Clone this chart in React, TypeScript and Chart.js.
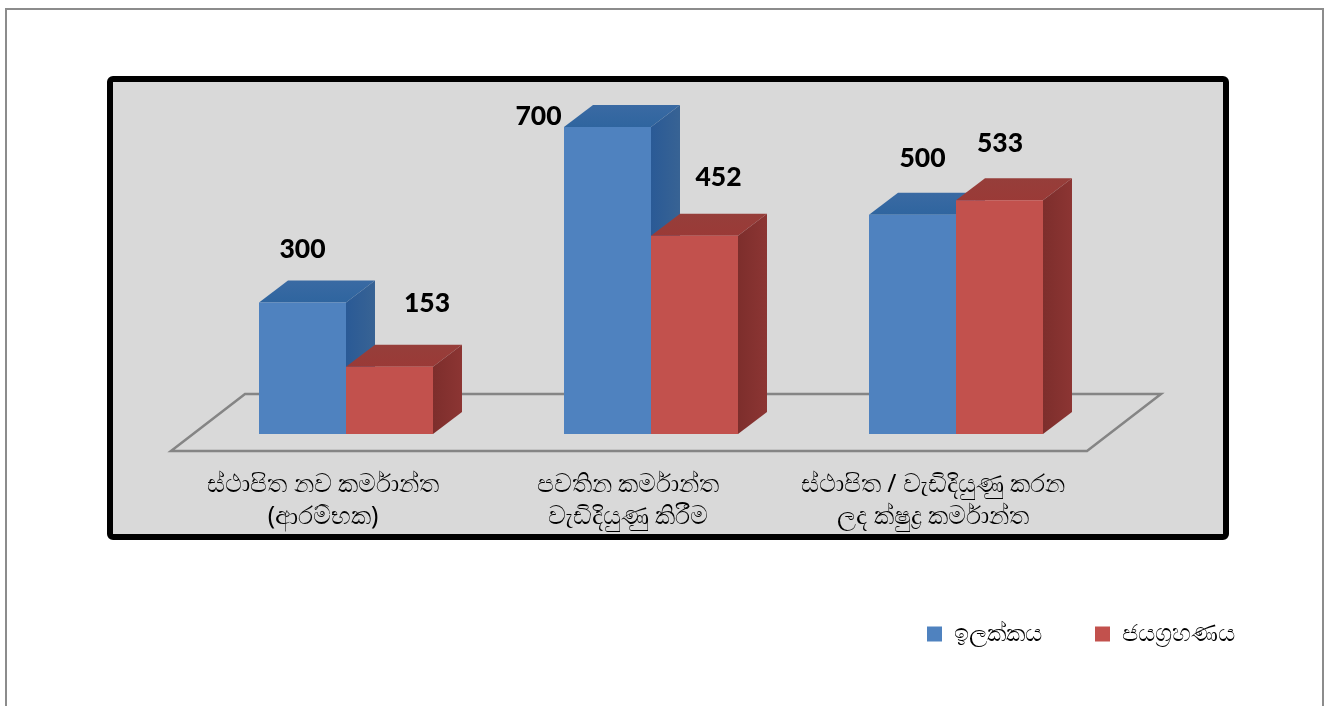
import React, { useEffect, useRef } from "react";
import { Chart, registerables } from "chart.js";

Chart.register(...registerables);

const categories = [
  ["ස්ථාපිත නව කර්මාන්ත", "(ආරම්භක)"],
  ["පවතින කර්මාන්ත", "වැඩිදියුණු කිරීම"],
  ["ස්ථාපිත / වැඩිදියුණු කරන", "ලද ක්ෂුද්‍ර කර්මාන්ත"],
];
const targetLabel = "ඉලක්කය";
const achievedLabel = "ජයග්‍රහණය";
const targetValues = [300, 700, 500];
const achievedValues = [153, 452, 533];

const FONT = "'Noto Sans', 'DejaVu Sans', sans-serif";
const DEPTH_X = 29;
const DEPTH_Y = -22;
const faces = [
  { top: ["#2f659f", "#3a6aa3"], side: ["#2a5a96", "#386394"] },
  { top: ["#9a3a37", "#963e3a"], side: ["#7d2e2c", "#8c3533"] },
];
const labelNudges = [
  [[0, -53], [-69, -10], [10, -56]],
  [[37.5, -63], [24, -58], [0.5, -57]],
];

const scene = {
  id: "scene",
  beforeDraw(chart: any) {
    const c = chart.ctx;
    c.save();
    c.fillStyle = "#ffffff";
    c.fillRect(0, 0, chart.width, chart.height);
    c.strokeStyle = "#8c8c8c";
    c.lineWidth = 2;
    c.strokeRect(6, 9, 1317, 720);
    c.beginPath();
    c.roundRect(110, 79, 1116, 458, 3);
    c.fillStyle = "#d9d9d9";
    c.fill();
    c.strokeStyle = "#000000";
    c.lineWidth = 6;
    c.stroke();
    c.restore();
  },
  beforeDatasetsDraw(chart: any) {
    const c = chart.ctx;
    const a = chart.chartArea;
    const slant = 74;
    const rise = 57;
    c.save();
    c.strokeStyle = "#858585";
    c.lineWidth = 2.5;
    c.beginPath();
    c.moveTo(a.left - 22.5, a.bottom + 17);
    c.lineTo(a.left - 22.5 + slant, a.bottom + 17 - rise);
    c.lineTo(a.right + 52.5, a.bottom + 17 - rise);
    c.lineTo(a.right + 52.5 - slant, a.bottom + 17);
    c.closePath();
    c.stroke();
    chart.data.datasets.forEach((_: any, d: number) => {
      chart.getDatasetMeta(d).data.forEach((bar: any) => {
        const l = bar.x - bar.width / 2;
        const r = bar.x + bar.width / 2;
        const topFill = c.createLinearGradient(0, bar.y, 0, bar.y + DEPTH_Y);
        topFill.addColorStop(0, faces[d].top[0]);
        topFill.addColorStop(1, faces[d].top[1]);
        c.fillStyle = topFill;
        c.beginPath();
        c.moveTo(l, bar.y);
        c.lineTo(r, bar.y);
        c.lineTo(r + DEPTH_X, bar.y + DEPTH_Y);
        c.lineTo(l + DEPTH_X, bar.y + DEPTH_Y);
        c.closePath();
        c.fill();
        const sideFill = c.createLinearGradient(r, 0, r + DEPTH_X, 0);
        sideFill.addColorStop(0, faces[d].side[0]);
        sideFill.addColorStop(1, faces[d].side[1]);
        c.fillStyle = sideFill;
        c.beginPath();
        c.moveTo(r, bar.y);
        c.lineTo(r + DEPTH_X, bar.y + DEPTH_Y);
        c.lineTo(r + DEPTH_X, bar.base + DEPTH_Y);
        c.lineTo(r, bar.base);
        c.closePath();
        c.fill();
      });
    });
    c.restore();
  },
  afterDatasetsDraw(chart: any) {
    const c = chart.ctx;
    c.save();
    c.fillStyle = "#000000";
    c.font = "900 26.5px Lato, 'Open Sans', sans-serif";
    c.textAlign = "center";
    c.textBaseline = "middle";
    chart.data.datasets.forEach((ds: any, d: number) => {
      chart.getDatasetMeta(d).data.forEach((bar: any, i: number) => {
        const [dx, dy] = labelNudges[d][i];
        c.fillText(String(ds.data[i]), bar.x + dx, bar.y + dy);
      });
    });
    c.restore();
  },
  afterLayout(chart: any) {
    const lg = chart.legend;
    const p = lg.options.labels.padding;
    lg.left = 927 - p;
    lg.right = 1320;
    lg.top = 622 - p;
    lg.bottom = lg.top + lg.height;
  },
};

export default function App() {
  const ref = useRef<HTMLCanvasElement>(null);
  useEffect(() => {
    document.body.style.margin = "0";
    document.body.style.overflow = "hidden";
    const chart = new Chart(ref.current!, {
      type: "bar",
      data: {
        labels: categories,
        datasets: [
          { label: targetLabel, data: targetValues, backgroundColor: "#4f82bf" },
          { label: achievedLabel, data: achievedValues, backgroundColor: "#c2514d" },
        ],
      },
      plugins: [scene],
      options: {
        responsive: false,
        animation: false,
        events: [],
        layout: { padding: { left: 193.5, right: 218.5, top: 83, bottom: 0 } },
        datasets: { bar: { categoryPercentage: 174 / 305, barPercentage: 1 } },
        scales: {
          x: {
            grid: { display: false, drawTicks: false },
            border: { display: false },
            ticks: {
              padding: 35,
              labelOffset: -23,
              maxRotation: 0,
              autoSkip: false,
              color: "#000000",
              font: { family: FONT, size: 24.5, lineHeight: 32 / 24.5 },
            },
            afterFit(scale: any) {
              scale.height = 706 - 434 - (scale.chart.legend?.height ?? 0);
            },
          },
          y: { display: false, min: 0, max: 800 },
        },
        plugins: {
          tooltip: { enabled: false },
          title: { display: false },
          legend: {
            position: "bottom",
            align: "start",
            labels: {
              boxWidth: 15,
              boxHeight: 15,
              padding: 53,
              color: "#000000",
              font: { family: FONT, size: 24 },
            },
          },
        },
      },
    } as any);
    return () => chart.destroy();
  }, []);
  return (
    <div style={{ width: 1327, height: 706 }}>
      <canvas ref={ref} width={1327} height={706} style={{ display: "block" }} />
    </div>
  );
}
